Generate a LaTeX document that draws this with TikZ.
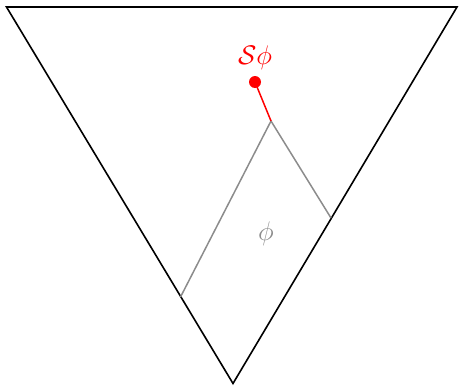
\documentclass[tikz,border=0pt]{standalone}
\begin{document}
\begin{tikzpicture}[x=1pt,y=-1pt,
  edge/.style={line width=1.6pt,black},
  inner/.style={line width=1.5pt,gray!90},
  red line/.style={line width=1.5pt,red},
  lbl/.style={font=\fontsize{20.74}{25}\selectfont,inner sep=0pt}]
\useasboundingbox (0,0) rectangle (459,386);
\coordinate (tl) at (6.5,7);
\coordinate (tr) at (457,7);
\coordinate (bt) at (233,383.5);
\coordinate (pl) at (180.5,297);
\coordinate (pt) at (271,121);
\coordinate (pr) at (331,218);
\draw[edge,line join=miter] (tl) -- (tr) -- (bt) -- cycle;
\draw[inner] (pl) -- (pt) -- (pr);
\node[circle,fill=red,inner sep=0pt,minimum size=12pt] (dot) at (255,82) {};
\draw[red line] (pt) -- (dot.center);
\node[lbl,text=red] (S) at (255,58) {\scalebox{1.3}{$\mathcal{S}\phi$}};
\node[lbl,text=gray!90] (phi) at (266,234) {\scalebox{1.3}{$\phi$}};
\end{tikzpicture}
\end{document}
